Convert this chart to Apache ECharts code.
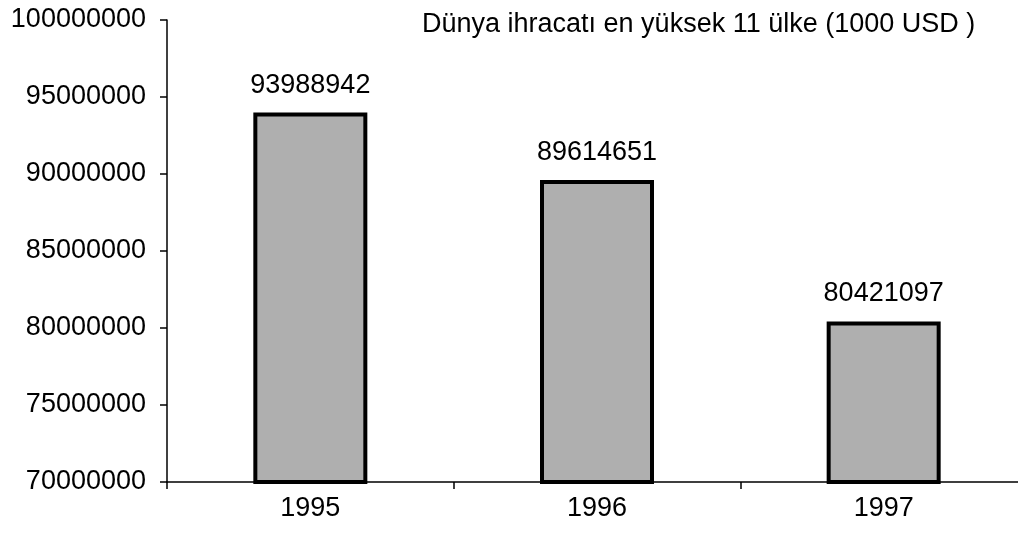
<!DOCTYPE html>
<html>
<head>
<meta charset="utf-8">
<script src="https://cdn.jsdelivr.net/npm/echarts@6/dist/echarts.min.js"></script>
<style>
  html, body { margin: 0; padding: 0; background: #fff; overflow: hidden; }
  /* the original plot runs a few px past the right edge of the picture */
  #myChart { width: 1027px; height: 535px; }
</style>
</head>
<body>
<div id="myChart"></div>
<script>
var years = ['1995', '1996', '1997'];
var exports = [93988942, 89614651, 80421097];
var titleText = 'Dünya ihracatı en yüksek 11 ülke (1000 USD )';

var font = 'Arial, "Liberation Sans", sans-serif';

var option = {
    animation: false,
    backgroundColor: '#fff',
    title: {
        text: titleText,
        left: 417,
        top: 6,
        textStyle: { fontFamily: font, fontSize: 27, fontWeight: 'normal', color: '#000' }
    },
    grid: {
        left: 167,
        right: 0,
        top: 20,
        bottom: 53
    },
    xAxis: {
        type: 'category',
        data: years,
        boundaryGap: true,
        axisLine: { lineStyle: { color: '#000', width: 1.5 } },
        axisTick: { show: true, length: 7, lineStyle: { color: '#000', width: 1.5 } },
        axisLabel: { margin: 13, fontFamily: font, fontSize: 27, color: '#000' },
        splitLine: { show: false }
    },
    yAxis: {
        type: 'value',
        min: 70000000,
        max: 100000000,
        interval: 5000000,
        axisLine: { show: true, lineStyle: { color: '#000', width: 1.5 } },
        axisTick: { show: true, length: 7, lineStyle: { color: '#000', width: 1.5 } },
        axisLabel: {
            margin: 21, fontFamily: font, fontSize: 27, color: '#000',
            formatter: function (v) { return String(v); }
        },
        splitLine: { show: false }
    },
    series: [{
        type: 'bar',
        data: exports,
        barWidth: 114,
        itemStyle: {
            color: '#afafaf',
            borderColor: '#000',
            borderWidth: 4
        },
        label: {
            show: true,
            position: 'top',
            distance: 14,
            fontFamily: font,
            fontSize: 27,
            color: '#000'
        }
    }]
};

var myChart = echarts.init(document.getElementById('myChart'));
myChart.setOption(option);
</script>
</body>
</html>
